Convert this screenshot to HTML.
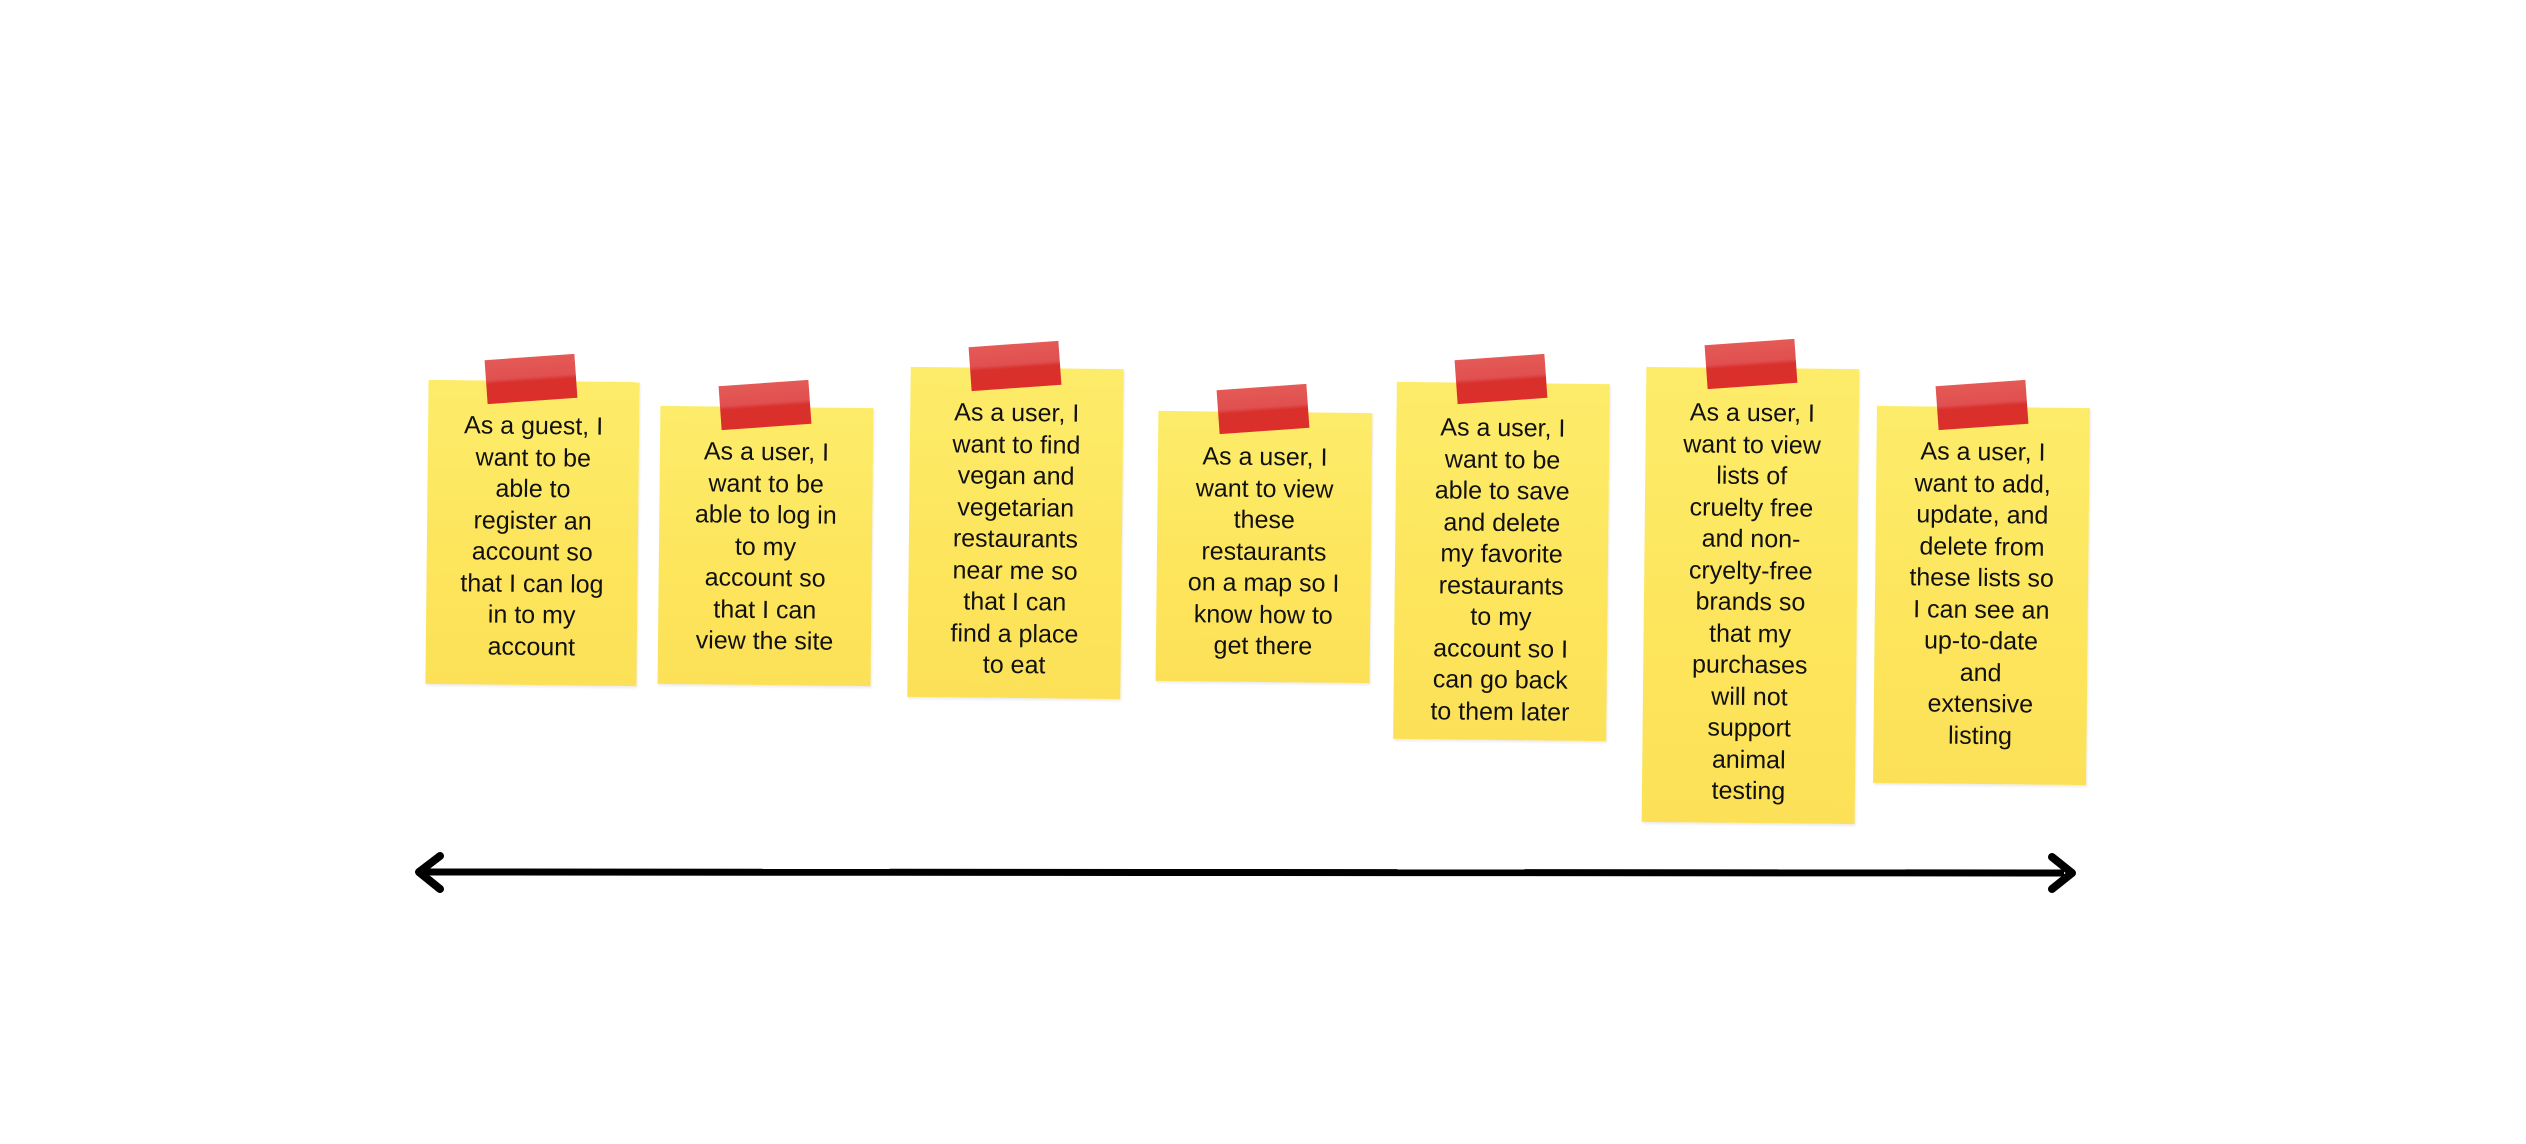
<!DOCTYPE html>
<html><head><meta charset="utf-8"><style>
html,body{margin:0;padding:0;background:#fff;}
body{width:2526px;height:1144px;position:relative;overflow:hidden;font-family:"Liberation Sans Narrow","Liberation Sans",sans-serif;}
.n{position:absolute;background:linear-gradient(180deg,#fdec6a 0%,#fde55c 60%,#fce158 100%);box-shadow:1px 2px 2px rgba(0,0,0,0.08);text-align:center;color:#111;font-size:25px;line-height:31.5px;padding-top:30px;box-sizing:border-box;}
.t{position:absolute;width:90px;height:44px;background:linear-gradient(180deg,#e45a55 0%,#e05050 45%,#d9302c 55%,#dc2f2b 100%);transform:rotate(-4deg);}
</style></head><body>
<div class="n" style="left:427px;top:381px;width:211px;height:304px;transform:rotate(0.6deg)">As a guest, I<br>want to be<br>able to<br>register an<br>account so<br>that I can log<br>in to my<br>account</div>
<div class="t" style="left:486px;top:357px"></div>
<div class="n" style="left:659px;top:407px;width:213px;height:278px;transform:rotate(0.6deg)">As a user, I<br>want to be<br>able to log in<br>to my<br>account so<br>that I can<br>view the site</div>
<div class="t" style="left:720px;top:383px"></div>
<div class="n" style="left:909px;top:368px;width:213px;height:330px;transform:rotate(0.6deg)">As a user, I<br>want to find<br>vegan and<br>vegetarian<br>restaurants<br>near me so<br>that I can<br>find a place<br>to eat</div>
<div class="t" style="left:970px;top:344px"></div>
<div class="n" style="left:1157px;top:412px;width:214px;height:270px;transform:rotate(0.6deg)">As a user, I<br>want to view<br>these<br>restaurants<br>on a map so I<br>know how to<br>get there</div>
<div class="t" style="left:1218px;top:387px"></div>
<div class="n" style="left:1395px;top:383px;width:213px;height:357px;transform:rotate(0.6deg)">As a user, I<br>want to be<br>able to save<br>and delete<br>my favorite<br>restaurants<br>to my<br>account so I<br>can go back<br>to them later</div>
<div class="t" style="left:1456px;top:357px"></div>
<div class="n" style="left:1644px;top:368px;width:213px;height:455px;transform:rotate(0.6deg)">As a user, I<br>want to view<br>lists of<br>cruelty free<br>and non-<br>cryelty-free<br>brands so<br>that my<br>purchases<br>will not<br>support<br>animal<br>testing</div>
<div class="t" style="left:1706px;top:342px"></div>
<div class="n" style="left:1875px;top:407px;width:213px;height:377px;transform:rotate(0.6deg)">As a user, I<br>want to add,<br>update, and<br>delete from<br>these lists so<br>I can see an<br>up-to-date<br>and<br>extensive<br>listing</div>
<div class="t" style="left:1937px;top:383px"></div>
<svg style="position:absolute;left:0;top:0" width="2526" height="1144">
<line x1="425" y1="872" x2="2064" y2="873" stroke="#000" stroke-width="7"/>
<path d="M440 856 L419 872 L440 889" fill="none" stroke="#000" stroke-width="8" stroke-linejoin="round" stroke-linecap="round"/>
<path d="M2052 857 L2072 873 L2052 889" fill="none" stroke="#000" stroke-width="8" stroke-linejoin="round" stroke-linecap="round"/>
</svg>
</body></html>
